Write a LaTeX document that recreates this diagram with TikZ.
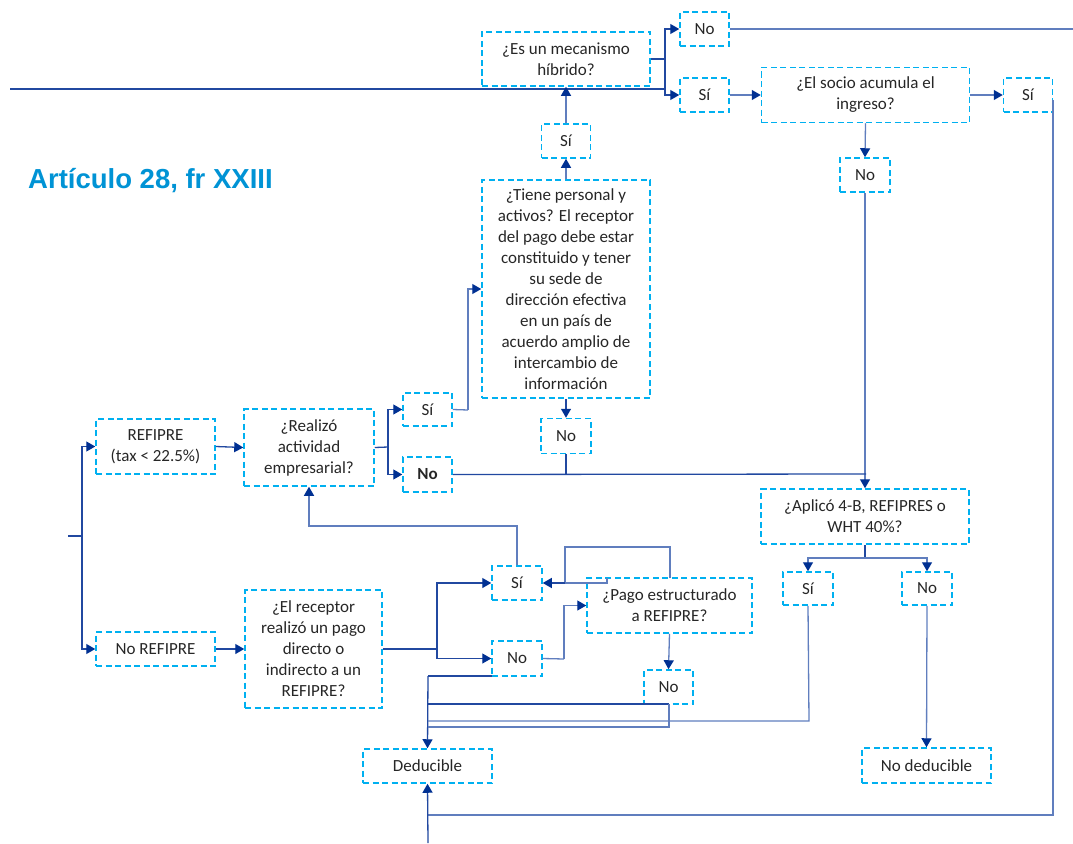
\documentclass[tikz,border=0pt]{standalone}
\usepackage{fontspec}
\setmainfont{Carlito}
\newfontfamily\titlefont{Liberation Sans}
\usetikzlibrary{arrows.meta}
\definecolor{boxc}{RGB}{0,176,240}
\definecolor{txtc}{RGB}{38,38,38}
\definecolor{darkl}{RGB}{33,72,160}
\definecolor{lightl}{RGB}{96,126,190}
\definecolor{tipc}{RGB}{0,48,146}
\definecolor{titlec}{RGB}{0,147,213}
\tikzset{
  boxn/.style={draw=boxc, line width=1.5pt, dash pattern=on 6pt off 3.5pt, align=center,
    inner sep=0pt, text=txtc, font=\fontsize{17}{21}\selectfont},
  conn/.style={draw=darkl, line width=1.3pt},
  connl/.style={draw=lightl, line width=1.3pt},
  arr/.style={-{Triangle[length=9pt,width=10pt,color=tipc]}},
}
\begin{document}
\begin{tikzpicture}[x=1pt,y=-1pt]
\path[use as bounding box] (0,0) rectangle (1073,843);

% title
\node[anchor=base west, inner sep=0pt, text=titlec, font=\titlefont\bfseries\fontsize{27.5}{30}\selectfont] (title) at (28,188) {Artículo 28, fr XXIII};

% nodes
\node[boxn, minimum width=168pt, minimum height=54pt] (mec) at (566,59) {¿Es un mecanismo\\híbrido?};
\node[boxn, minimum width=49pt, minimum height=34pt] (noTop) at (704.5,29) {No};
\node[boxn, minimum width=49pt, minimum height=34pt] (siTop) at (704.5,95) {Sí};
\node[boxn, minimum width=208pt, minimum height=55pt] (socio) at (865.5,95) {¿El socio acumula el\\ingreso?};
\node[boxn, minimum width=49pt, minimum height=34pt] (siR) at (1028,95) {Sí};
\node[boxn, minimum width=50pt, minimum height=34pt] (noS) at (865,175) {No};
\node[boxn, minimum width=49pt, minimum height=34pt] (siT) at (566,141) {Sí};
\node[boxn, minimum width=168pt, minimum height=218pt] (tiene) at (566,289) {¿Tiene personal y\\activos? El receptor\\del pago debe estar\\constituido y tener\\su sede de\\dirección efectiva\\en un país de\\acuerdo amplio de\\intercambio de\\información};
\node[boxn, minimum width=50pt, minimum height=35pt] (noT) at (566,436) {No};
\node[boxn, minimum width=49pt, minimum height=33pt] (siRz) at (427.5,409.5) {Sí};
\node[boxn, minimum width=49pt, minimum height=35pt, font=\fontsize{17}{21}\selectfont\bfseries] (noRz) at (427.5,474.5) {No};
\node[boxn, minimum width=119pt, minimum height=55pt] (refipre) at (155.5,446.5) {REFIPRE\\(tax < 22.5\%)};
\node[boxn, minimum width=130pt, minimum height=77pt] (realizo) at (309,447.5) {¿Realizó\\actividad\\empresarial?};
\node[boxn, minimum width=119pt, minimum height=34pt] (norefipre) at (155.5,649) {No REFIPRE};
\node[boxn, minimum width=137pt, minimum height=118pt] (receptor) at (313.5,649) {¿El receptor\\realizó un pago\\directo o\\indirecto a un\\REFIPRE?};
\node[boxn, minimum width=50pt, minimum height=34pt] (siL) at (517,583) {Sí};
\node[boxn, minimum width=50pt, minimum height=35pt] (noL) at (517,658.5) {No};
\node[boxn, minimum width=165pt, minimum height=55pt] (pago) at (669.5,605.5) {¿Pago estructurado\\a REFIPRE?};
\node[boxn, minimum width=49pt, minimum height=34pt] (noP) at (668.5,687) {No};
\node[boxn, minimum width=129pt, minimum height=34pt] (ded) at (427.5,766) {Deducible};
\node[boxn, minimum width=208pt, minimum height=55pt] (aplico) at (865,516.5) {¿Aplicó 4-B, REFIPRES o\\WHT 40\%?};
\node[boxn, minimum width=50pt, minimum height=33pt] (siA) at (808,588.5) {Sí};
\node[boxn, minimum width=50pt, minimum height=33pt] (noA) at (927,588.5) {No};
\node[boxn, minimum width=129pt, minimum height=35pt] (noded) at (926.5,765.5) {No deducible};

% junction coordinates
\coordinate (L0) at (10,89);
\coordinate (jM) at (665,59);
\coordinate (jL) at (665,89);
\coordinate (R0) at (1073,29);
\coordinate (jR1) at (1053,100);
\coordinate (jR2) at (1053,815);
\coordinate (jR3) at (428,815);
\coordinate (B0) at (428,843);
\coordinate (jRz) at (388,447);
\coordinate (jSi) at (468,410);
\coordinate (jNo) at (866,474);
\coordinate (jNT) at (566,474);
\coordinate (S0) at (68,536);
\coordinate (jS) at (82,536);
\coordinate (jRc) at (437,649);
\coordinate (jU) at (517,526);
\coordinate (jNL) at (564,659);
\coordinate (jP1) at (670,578);
\coordinate (jP2) at (670,547);
\coordinate (jP3) at (565,547);
\coordinate (jP4) at (565,583);
\coordinate (jP5) at (607,578);
\coordinate (jP6) at (607,583);
\coordinate (jD1) at (492,676);
\coordinate (jD2) at (428,676);
\coordinate (jN1) at (669,704);
\coordinate (jN2) at (428,704);
\coordinate (jN3) at (669,727);
\coordinate (jN4) at (428,727);
\coordinate (jA1) at (809,721);
\coordinate (jA2) at (428,721);
\coordinate (jAp) at (865,558);

% top section
\draw[conn] (L0) -- (jL);
\draw[conn] (mec.east) -- (jM);
\draw[conn,arr] (jM) |- (noTop.west);
\draw[conn,arr] (jM) |- (siTop.west);
\draw[connl] (noTop.east) -- (R0);
\draw[connl,arr] (siTop.east) -- (socio.west);
\draw[connl,arr] (socio.east) -- (siR.west);
\draw[connl,arr] (socio.south) -- (noS.north);
\draw[connl,arr] (noS.south) -- (aplico.north);
\draw[connl] (jR1) -- (jR2) -- (jR3);
\draw[conn,arr] (B0) -- (ded.south);
\draw[connl,arr] (tiene.north) -- (siT.south);
\draw[connl,arr] (siT.north) -- (mec.south);
\draw[conn,arr] (tiene.south) -- (noT.north);
\draw[conn] (noT.south) -- (jNT);
\draw[conn] (noRz.east) -- (jNo);

% realizo branch
\draw[conn] (realizo.east) -- (jRz);
\draw[conn,arr] (jRz) |- (siRz.west);
\draw[conn,arr] (jRz) |- (noRz.west);
\draw[connl] (siRz.east) -- (jSi);
\draw[connl,arr] (jSi) |- (tiene.west);
\draw[conn,arr] (refipre.east) -- (realizo.west);

% start
\draw[conn] (S0) -- (jS);
\draw[conn,arr] (jS) |- (refipre.west);
\draw[conn,arr] (jS) |- (norefipre.west);
\draw[conn,arr] (norefipre.east) -- (receptor.west);

% receptor branch
\draw[conn] (receptor.east) -- (jRc);
\draw[conn,arr] (jRc) |- (siL.west);
\draw[conn,arr] (jRc) |- (noL.west);
\draw[connl,arr] (siL.north) -- (jU) -| (realizo.south);
\draw[connl] (noL.east) -- (jNL);
\draw[connl,arr] (jNL) |- (pago.west);
\draw[connl] (jP1) -- (jP2) -- (jP3) -- (jP4);
\draw[connl] (jP5) -- (jP6) -- (jP4);
\draw[conn,arr] (jP4) -- (siL.east);
\draw[connl,arr] (pago.south) -- (noP.north);

% deducible collectors
\draw[conn] (jD1) -- (jD2);
\draw[conn,arr] (jD2) -- (ded.north);
\draw[conn] (jN1) -- (jN2);
\draw[connl] (jN1) -- (jN3) -- (jN4);
\draw[connl] (siA.south) -- (jA1) -- (jA2);

% aplico branch
\draw[conn] (aplico.south) -- (jAp);
\draw[connl,arr] (jAp) -| (siA.north);
\draw[connl,arr] (jAp) -| (noA.north);
\draw[connl,arr] (noA.south) -- (noded.north);
\end{tikzpicture}
\end{document}
